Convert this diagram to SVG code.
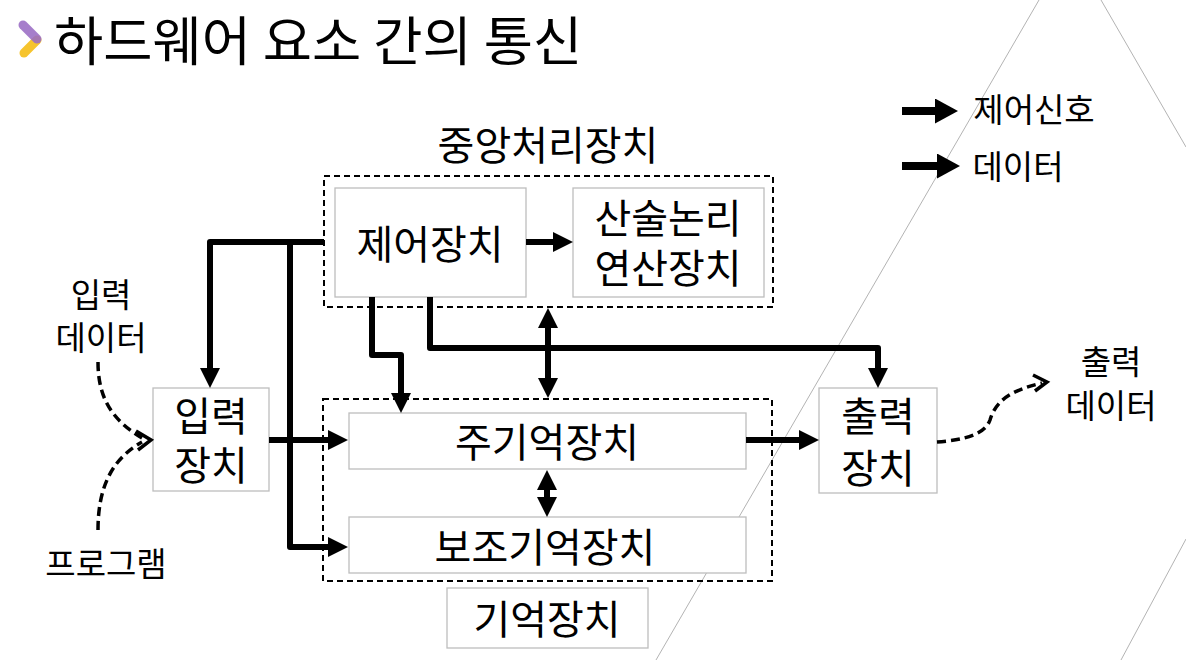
<svg xmlns="http://www.w3.org/2000/svg" width="1186" height="660" viewBox="0 0 1186 660">
<defs>
<style>
text{font-family:"Noto Sans CJK KR","Noto Sans",sans-serif;fill:#000;text-anchor:middle;dominant-baseline:central}
.big{font-size:40px}
.small{font-size:33px}
.box{fill:#fff;stroke:#bdbdbd;stroke-width:1.3}
.grp{fill:none;stroke:#000;stroke-width:2;stroke-dasharray:6 4}
.ln{fill:none;stroke:#000;stroke-width:6;stroke-linejoin:round}
.ar{marker-end:url(#ah)}
.dbl{marker-start:url(#ah);marker-end:url(#ah)}
.dash{fill:none;stroke:#000;stroke-width:3.5;stroke-dasharray:9 5}
.chev{fill:none;stroke:#000;stroke-width:3.5;stroke-linejoin:miter}
.bg{stroke:#a0a0a0;stroke-width:0.8;fill:none}
</style>
<marker id="ah" viewBox="0 0 20 20" refX="1" refY="10" markerWidth="20" markerHeight="20" markerUnits="userSpaceOnUse" orient="auto-start-reverse"><path d="M0,0 L20,10 L0,20 z" fill="#000"/></marker>
<marker id="ahL" viewBox="0 0 23 25" refX="1" refY="12.5" markerWidth="23" markerHeight="25" markerUnits="userSpaceOnUse" orient="auto"><path d="M0,0 L23,12.5 L0,25 z" fill="#000"/></marker>
</defs>
<rect width="1186" height="660" fill="#fff"/>
<g id="background">
<line class="bg" x1="1039" y1="0" x2="656" y2="660"/>
<line class="bg" x1="1101" y1="0" x2="1186" y2="147"/>
<line class="bg" x1="1186" y1="539" x2="1121" y2="660"/>
</g>
<g id="title">
<path d="M24,53 L37,40" stroke="#f6c42e" stroke-width="9" stroke-linecap="round" fill="none"/>
<path d="M23,25 L37,39" stroke="#9a6cc4" stroke-width="9" stroke-linecap="round" fill="none" opacity="0.88"/>
<text x="54" y="37" style="font-size:53.5px;text-anchor:start">하드웨어 요소 간의 통신</text>
</g>
<g id="legend">
<line x1="902" y1="111" x2="936" y2="111" stroke="#000" stroke-width="8" marker-end="url(#ahL)"/>
<line x1="902" y1="166" x2="938" y2="166" stroke="#000" stroke-width="8" marker-end="url(#ahL)"/>
<text class="small" x="1034" y="108">제어신호</text>
<text class="small" x="1018" y="165">데이터</text>
</g>
<g id="cpu">
<rect class="grp" x="324" y="176" width="449" height="131"/>
<text class="big" x="548" y="143">중앙처리장치</text>
</g>
<g id="control">
<rect class="box" x="335" y="188" width="191" height="109"/>
<text class="big" x="430" y="242">제어장치</text>
</g>
<g id="alu">
<rect class="box" x="573" y="188" width="191" height="109"/>
<text class="big"><tspan x="668" y="216">산술논리</tspan><tspan x="668" y="266">연산장치</tspan></text>
</g>
<g id="memory">
<rect class="grp" x="323" y="399" width="449" height="182"/>
</g>
<g id="main-memory">
<rect class="box" x="349" y="413" width="397" height="56"/>
<text class="big" x="547" y="440">주기억장치</text>
</g>
<g id="aux-memory">
<rect class="box" x="349" y="517" width="397" height="56"/>
<text class="big" x="545" y="545">보조기억장치</text>
</g>
<g id="memory-label">
<rect class="box" x="447" y="588" width="201" height="60"/>
<text class="big" x="547" y="617">기억장치</text>
</g>
<g id="input">
<rect class="box" x="153" y="388" width="116" height="103"/>
<text class="big"><tspan x="211" y="414">입력</tspan><tspan x="211" y="463">장치</tspan></text>
</g>
<g id="output">
<rect class="box" x="819" y="388" width="118" height="105"/>
<text class="big"><tspan x="878" y="414">출력</tspan><tspan x="878" y="466">장치</tspan></text>
</g>
<g id="input-data">
<text class="small"><tspan x="101" y="293">입력</tspan><tspan x="101" y="336">데이터</tspan></text>
</g>
<g id="program">
<text class="small" x="106" y="562">프로그램</text>
</g>
<g id="output-data">
<text class="small"><tspan x="1111" y="360">출력</tspan><tspan x="1111" y="404">데이터</tspan></text>
</g>
<g id="connectors">
<path class="ln ar" d="M526,242 H554"/>
<path class="ln ar" d="M324,242 H210 V369"/>
<path class="ln ar" d="M290,242 V547 H329"/>
<path class="ln ar" d="M269,440 H329"/>
<path class="ln ar" d="M372,297 V355 H401 V394"/>
<path class="ln ar" d="M430,297 V348 H878 V369"/>
<path class="ln dbl" d="M548,327 V379"/>
<path class="ln dbl" d="M547,489 V498"/>
<path class="ln ar" d="M746,440 H800"/>
<path class="dash" d="M98,362 C98,398 112,420 142,438"/>
<path class="dash" d="M98,530 C98,490 110,460 142,442"/>
<path class="chev" d="M136,431 L151,440 L138,450"/>
<path class="dash" d="M937,442 C965,440 985,434 990,420 C996,400 1012,390 1042,383"/>
<path class="chev" d="M1033,375 L1047,382 L1035,391"/>
</g>
</svg>
